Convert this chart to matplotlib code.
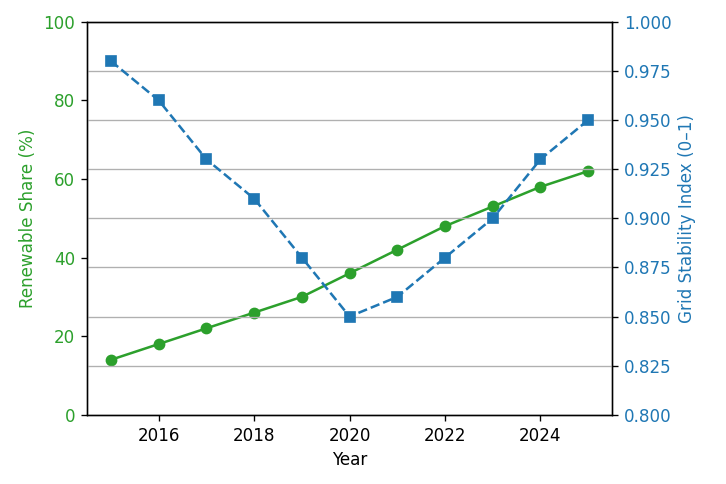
import numpy as np
import matplotlib.pyplot as plt

# ---------- Data ----------
years = [2015, 2016, 2017, 2018, 2019, 2020, 2021, 2022, 2023, 2024, 2025]
renewable_share = [14, 18, 22, 26, 30, 36, 42, 48, 53, 58, 62]
grid_stability = [0.98, 0.96, 0.93, 0.91, 0.88, 0.85, 0.86, 0.88, 0.90, 0.93, 0.95]

green = '#2ca02c'
blue = '#1f77b4'

# ---------- Plot ----------
fig, ax1 = plt.subplots(figsize=(6, 4), dpi=121)
fig.subplots_adjust(left=0.12, right=0.843, top=0.955, bottom=0.143)

ax1.plot(years, renewable_share, color=green, marker='o',
         label='Renewable Share (%)')
ax1.set_xlabel('Year')
ax1.set_ylabel('Renewable Share (%)', color=green)
ax1.tick_params(axis='y', labelcolor=green)
ax1.set_ylim(0, 100)

ax2 = ax1.twinx()
ax2.plot(years, grid_stability, color=blue, marker='s', linestyle='--',
         label='Grid Stability Index')
ax2.set_ylabel('Grid Stability Index (0–1)', color=blue)
ax2.tick_params(axis='y', labelcolor=blue)
ax2.set_ylim(0.8, 1.0)
ax2.set_yticks(np.arange(0.8, 1.0001, 0.025))
ax2.yaxis.set_major_formatter(plt.FormatStrFormatter('%.3f'))
ax2.grid(True, axis='y')

ax1.set_xticks([2016, 2018, 2020, 2022, 2024])

plt.savefig('out.png', dpi=121)
